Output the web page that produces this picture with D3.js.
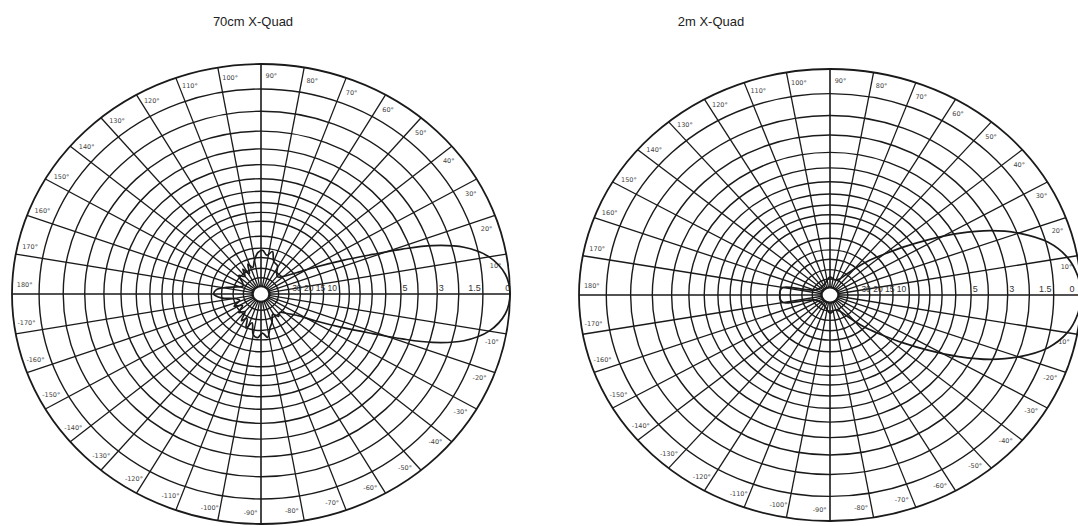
<!DOCTYPE html>
<html>
<head>
<meta charset="utf-8">
<script src="https://cdn.jsdelivr.net/npm/d3@7"></script>
<style>
  body { margin: 0; background: #fff; }
  svg { display: block; }
</style>
</head>
<body>
<svg id="chart" width="1078" height="526"></svg>
<script>
// Ring levels in dB below the maximum (0 dB = outer ring)
var ringDb = [0, 1, 2, 3, 4, 5, 6, 7, 8, 9, 10, 12, 14, 16, 19, 23, 29];
// Spoke angles, every 10 degrees
var spokeAngles = d3.range(0, 360, 10);
// Degree labels in the outer band
var degreeLabels = spokeAngles.map(function (a) {
    if (a === 0) return "";
    return (a <= 180 ? a : a - 360) + "°";
});
// dB labels on the 0° axis
var axisLabelDb = [0, 1.5, 3, 5];
var axisLabelText = ["0", "1.5", "3", "5"];
var innerAxisText = "30 20 15 10";

// 70cm X-Quad pattern (angle in degrees, relative field strength)
var quad70Angles = [0, 5, 10, 14, 17, 19, 21, 24, 28, 33, 40, 48, 55, 62, 70, 76, 82, 88, 94, 100, 106, 112, 118, 124, 130, 138, 146, 154, 162, 168, 174, 180,
    186, 192, 198, 206, 214, 222, 230, 236, 242, 248, 254, 260, 266, 272, 278, 284, 290, 298, 306, 313, 320, 327, 332, 336, 339, 341, 343, 346, 350, 355];
var quad70Levels = [1.0, 0.985, 0.93, 0.84, 0.72, 0.6, 0.48, 0.36, 0.25, 0.17, 0.12, 0.1, 0.11, 0.14, 0.15, 0.19, 0.17, 0.19, 0.18, 0.15, 0.12, 0.14, 0.1, 0.13, 0.1, 0.12, 0.09, 0.08, 0.1, 0.14, 0.18, 0.19,
    0.16, 0.1, 0.09, 0.12, 0.09, 0.12, 0.1, 0.14, 0.12, 0.16, 0.13, 0.18, 0.19, 0.17, 0.19, 0.15, 0.13, 0.1, 0.12, 0.11, 0.13, 0.17, 0.25, 0.36, 0.48, 0.6, 0.72, 0.84, 0.93, 0.985];

// 2m X-Quad pattern
var quad2Angles = [0, 5, 10, 15, 20, 24, 28, 32, 36, 40, 45, 50, 55, 62, 75, 90, 105, 120, 140, 158, 166, 170, 175, 180,
    185, 190, 194, 202, 220, 240, 255, 270, 285, 298, 305, 310, 315, 320, 324, 328, 332, 336, 340, 345, 350, 355];
var quad2Levels = [1.0, 0.99, 0.96, 0.9, 0.8, 0.7, 0.58, 0.46, 0.36, 0.28, 0.21, 0.15, 0.11, 0.08, 0.07, 0.08, 0.06, 0.05, 0.05, 0.06, 0.1, 0.19, 0.2, 0.2,
    0.2, 0.19, 0.1, 0.06, 0.05, 0.05, 0.06, 0.08, 0.07, 0.08, 0.11, 0.15, 0.21, 0.28, 0.36, 0.46, 0.58, 0.7, 0.8, 0.9, 0.96, 0.99];

var charts = [
    { title: "70cm X-Quad", titleX: 253, cx: 261, cy: 294, rx: 249, ry: 230, angles: quad70Angles, levels: quad70Levels },
    { title: "2m X-Quad", titleX: 711, cx: 830, cy: 295, rx: 251, ry: 226, angles: quad2Angles, levels: quad2Levels }
];

var W = 1078;
var svg = d3.select("#chart");
var ink = "#1a1a1a";

// field strength for a ring in dB
function dbToField(db) { return Math.pow(10, -db / 20); }

charts.forEach(function (c) {
    var g = svg.append("g");
    // x/y scales map the unit polar plane onto the (slightly squashed) scan
    var x = d3.scaleLinear().domain([-1, 1]).range([c.cx - c.rx, c.cx + c.rx]);
    var y = d3.scaleLinear().domain([-1, 1]).range([c.cy + c.ry, c.cy - c.ry]);
    var rad = function (a) { return a * Math.PI / 180; };
    var hubR = 0.032; // white hub in the middle

    // title
    svg.append("text")
        .attr("x", c.titleX)
        .attr("y", 26)
        .attr("text-anchor", "middle")
        .attr("font-family", "Liberation Sans, Arial, sans-serif")
        .attr("font-size", 13)
        .attr("fill", "#222")
        .text(c.title);

    // rings
    g.selectAll("ellipse.ring")
        .data(ringDb)
        .enter()
        .append("ellipse")
        .attr("class", "ring")
        .attr("cx", x(0))
        .attr("cy", y(0))
        .attr("rx", function (d) { return x(dbToField(d)) - x(0); })
        .attr("ry", function (d) { return y(0) - y(dbToField(d)); })
        .attr("fill", "none")
        .attr("stroke", ink)
        .attr("stroke-width", function (d) { return d === 0 ? 1.8 : 1.4; });

    // spokes
    g.selectAll("line.spoke")
        .data(spokeAngles)
        .enter()
        .append("line")
        .attr("class", "spoke")
        .attr("x1", function (d) { return x(hubR * Math.cos(rad(d))); })
        .attr("y1", function (d) { return y(hubR * Math.sin(rad(d))); })
        .attr("x2", function (d) { return x(Math.cos(rad(d))); })
        .attr("y2", function (d) { return y(Math.sin(rad(d))); })
        .attr("stroke", ink)
        .attr("stroke-width", function (d) { return d % 90 === 0 ? 1.6 : 1.3; });

    // hub
    g.append("ellipse")
        .attr("cx", x(0)).attr("cy", y(0))
        .attr("rx", x(hubR) - x(0)).attr("ry", y(0) - y(hubR))
        .attr("fill", "#fff").attr("stroke", ink).attr("stroke-width", 1.4);

    // degree labels in the outer band
    g.selectAll("text.deg")
        .data(spokeAngles)
        .enter()
        .append("text")
        .attr("class", "deg")
        .attr("x", function (d) { return x(0.95 * Math.cos(rad(d - 2.5))); })
        .attr("y", function (d) { return y(0.95 * Math.sin(rad(d - 2.5))) + 2.5; })
        .attr("text-anchor", "middle")
        .attr("font-family", "DejaVu Sans, sans-serif")
        .attr("font-size", 6.5)
        .attr("fill", "#444")
        .text(function (d, i) { return degreeLabels[i]; });

    // dB labels along the axis (kept inside the page edge)
    g.selectAll("text.db")
        .data(axisLabelDb)
        .enter()
        .append("text")
        .attr("class", "db")
        .attr("x", function (d) { return Math.min(x(Math.min(dbToField(d), 0.975)) + 4, W - 6); })
        .attr("y", y(0) - 3)
        .attr("text-anchor", "middle")
        .attr("font-family", "Liberation Sans, Arial, sans-serif")
        .attr("font-size", 9)
        .attr("fill", "#333")
        .text(function (d, i) { return axisLabelText[i]; });

    g.append("text")
        .attr("x", x(0.125))
        .attr("y", y(0) - 3)
        .attr("font-family", "Liberation Sans, Arial, sans-serif")
        .attr("font-size", 8.5)
        .attr("fill", "#333")
        .text(innerAxisText);

    // radiation pattern
    var pts = c.angles.map(function (a, i) { return [a, c.levels[i]]; });
    var line = d3.line()
        .x(function (d) { return x(d[1] * Math.cos(rad(d[0]))); })
        .y(function (d) { return y(d[1] * Math.sin(rad(d[0]))); })
        .curve(d3.curveCatmullRomClosed.alpha(0.5));
    g.append("path")
        .datum(pts)
        .attr("d", line)
        .attr("fill", "none")
        .attr("stroke", ink)
        .attr("stroke-width", 1.7);
});
</script>
</body>
</html>
